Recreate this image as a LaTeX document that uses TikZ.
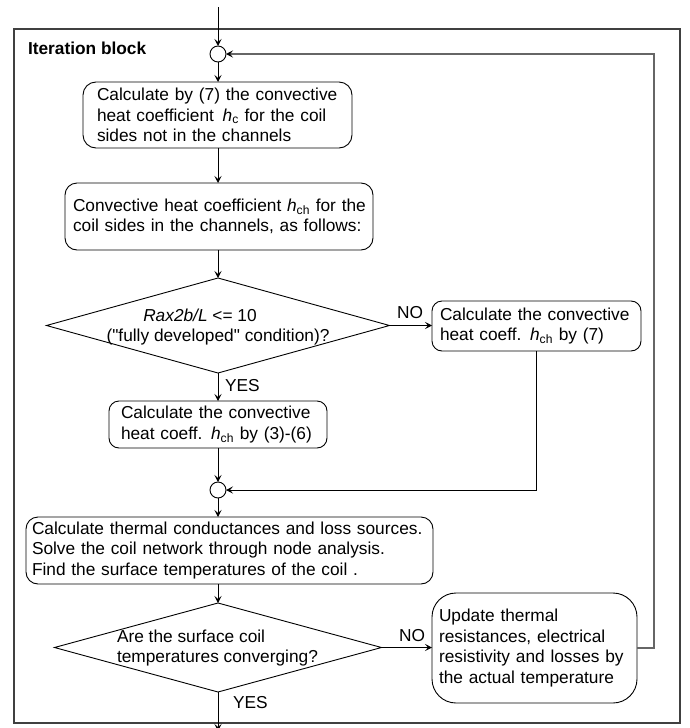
\documentclass[tikz,border=0pt]{standalone}
\usepackage{fontspec}
\setmainfont{Liberation Sans}[Ligatures=TeXOff]
\usetikzlibrary{arrows.meta,shapes.geometric,calc}
\begin{document}
\begin{tikzpicture}[x=1pt,y=-1pt,
  every node/.style={font=\fontsize{17.3}{20.5}\selectfont},
  box/.style={draw, line width=0.9pt, rounded corners=#1, align=left, inner ysep=0pt, outer sep=0pt, anchor=north west},
  dec/.style={draw, diamond, line width=0.9pt, inner sep=0pt, outer sep=0pt},
  junc/.style={draw, circle, line width=0.9pt, minimum size=16pt, inner sep=0pt, outer sep=0pt},
  arr/.style={line width=0.9pt, -{Stealth[length=7pt,width=7pt,inset=3pt]}},
  frame/.style={draw=black!75, line width=1.4pt},
  fb/.style={draw=black!60, line width=1.6pt, -{Stealth[length=7pt,width=7pt,inset=3pt,black]}},
  lbl/.style={inner sep=0pt, outer sep=0pt},
]
\useasboundingbox (0,0) rectangle (689,728);
\fill[white] (0,0) rectangle (689,728);

% frame of the iteration block
\draw[frame] (14,29) rectangle (680,723);
\node[lbl, anchor=west, font=\fontsize{17.3}{20.5}\selectfont\bfseries] (title) at (28,48) {Iteration block};

% nodes
\coordinate (start) at (218,7);
\node[junc] (c1) at (218,54) {};
\node[box=13pt, minimum width=269pt, minimum height=66pt, inner xsep=14pt, text width=241pt] (b1) at (83,82)
  {\mbox{Calculate by (7) the convective}\\\mbox{heat coefficient \,\textit{h}\textsubscript{c} for the coil}\\\mbox{sides not in the channels}};
\node[box=12pt, minimum width=308pt, minimum height=67pt, inner xsep=8pt, text width=292pt] (b2) at (65,183)
  {\mbox{Convective heat coefficient \textit{h}\textsubscript{ch} for the}\\\mbox{coil sides in the channels, as follows:}};
\node[dec, minimum width=343pt, minimum height=95pt] (d1) at (218,325.5) {};
\node[lbl, align=center] (d1t) at (218,327) {\textit{Rax2b/L} <= 10\hspace*{36pt}\\("fully developed" condition)?};
\node[box=10pt, minimum width=218pt, minimum height=47pt, inner xsep=12pt, text width=194pt] (b3) at (109,401)
  {\mbox{Calculate the convective}\\\mbox{heat coeff. \textit{h}\textsubscript{ch} by (3)-(6)}};
\node[box=10pt, minimum width=209pt, minimum height=50pt, inner xsep=8pt, text width=193pt] (b4) at (432,301)
  {\mbox{Calculate the convective}\\\mbox{heat coeff. \textit{h}\textsubscript{ch} by (7)}};
\node[junc] (c2) at (218,490) {};
\node[box=12pt, minimum width=407pt, minimum height=67pt, inner xsep=6pt, text width=395pt] (b5) at (26,517)
  {\mbox{Calculate thermal conductances and loss sources.}\\\mbox{Solve the coil network through node analysis.}\\\mbox{Find the surface temperatures of the coil .}};
\node[dec, minimum width=327pt, minimum height=89pt] (d2) at (218,647.5) {};
\node[lbl, align=left, anchor=west] (d2t) at (117,648) {Are the surface coil\\temperatures converging?};
\node[box=24pt, minimum width=205pt, minimum height=110pt, inner xsep=7pt, text width=191pt] (b6) at (432,593)
  {\mbox{Update thermal}\\\mbox{resistances, electrical}\\\mbox{resistivity and losses by}\\\mbox{the actual temperature}};
\coordinate (out) at (218,731);
\coordinate (fbc) at (654,54);

% labels
\node[lbl] (no1) at (410,313) {NO};
\node[lbl] (no2) at (412,636) {NO};
\node[lbl, anchor=west] (yes1) at (225,386) {YES};
\node[lbl, anchor=west] (yes2) at (233,703) {YES};

% connectors
\draw[arr] (start) -- (c1.north);
\draw[arr] (c1.south) -- (c1 |- b1.north);
\draw[arr] (b1.south -| c1) -- (c1 |- b2.north);
\draw[arr] (b2.south -| c1) -- (d1.north);
\draw[arr] (d1.south) -- (d1.south |- b3.north);
\draw[arr] (d1.east) -- (d1.east -| b4.west);
\draw[arr] (b3.south -| c2) -- (c2.north);
\draw[arr] (b4.south) |- (c2.east);
\draw[arr] (c2.south) -- (c2 |- b5.north);
\draw[arr] (b5.south -| d2) -- (d2.north);
\draw[arr] (d2.east) -- (d2.east -| b6.west);
\draw[arr] (d2.south) -- (out);
\draw[fb] (b6.east) -| (fbc) -- (c1.east);
\end{tikzpicture}
\end{document}
